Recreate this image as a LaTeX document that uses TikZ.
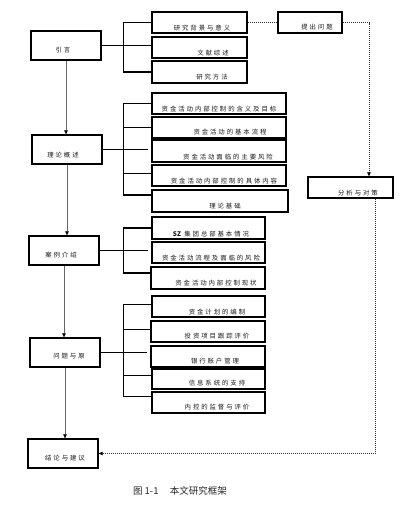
\documentclass[tikz,border=0pt]{standalone}
\usepackage{fontspec}
\setmainfont{Noto Sans CJK SC}
\newfontfamily\cjk[LetterSpace=30]{Noto Sans CJK SC}
\newfontfamily\cjkn{Noto Sans CJK SC}
\usetikzlibrary{arrows.meta}
\tikzset{
 box/.style={draw, line width=1.35pt, inner sep=0pt, rectangle},
 lbl/.style={inner sep=0pt, font=\cjk\fontsize{6.4}{7}\selectfont, text=black!90},
 thk/.style={line width=1.3pt},
 thn/.style={line width=0.6pt},
 tipb/.style={-{Triangle[length=4pt,width=3.5pt,color=black]}},
 mainln/.style={line width=0.6pt, draw=black!60, tipb},
 dsh/.style={line width=0.6pt, dash pattern=on 1pt off 1pt, draw=black!80},
}
\newcommand\bx[8]{%
 \node[box, minimum width={#4pt-#2pt}, minimum height={#5pt-#3pt}] (#1) at ({(#2+#4)/2},{(#3+#5)/2}) {};
 \node[lbl] (#1-t) at (#7,#8) {#6};}
\begin{document}
\begin{tikzpicture}[x=1pt,y=-1pt]
\useasboundingbox (0,0) rectangle (400,506);
% left column
\bx{yinyan}{31}{31}{101}{60}{引言}{63}{50}
\bx{lilun}{32}{135}{102}{164}{理论概述}{63}{155}
\bx{anli}{29}{236}{99}{265}{案例介绍}{61}{255}
\bx{wt}{30}{338}{100}{367}{问题与原}{69}{356}
\bx{jl}{28}{439}{98}{468}{结论与建议}{65}{458}
% group 1
\bx{bg}{152}{12}{247}{33}{研究背景与意义}{202}{28}
\bx{wx}{152}{37}{247}{58}{文献综述}{213}{53}
\bx{ff}{152}{61}{247}{83}{研究方法}{212}{77}
\bx{tc}{278}{12}{342}{33}{提出问题}{317}{27}
% group 2
\bx{t1}{152}{93}{286}{114}{资金活动内部控制的含义及目标}{219}{109}
\bx{t2}{152}{117}{286}{138}{资金活动的基本流程}{230}{132}
\bx{t3}{152}{140}{286}{162}{资金活动面临的主要风险}{228}{157}
\bx{t4}{152}{165}{286}{186}{资金活动内部控制的具体内容}{224}{181}
\bx{t5}{152}{190}{288}{212}{理论基础}{225}{206}
\bx{fx}{308}{177}{393}{198}{分析与对策}{358}{193}
% group 3
\bx{c1}{152}{217}{265}{239}{{\cjkn\bfseries SZ} 集团总部基本情况}{211}{234}
\bx{c2}{152}{242}{265}{263}{资金活动流程及面临的风险}{211}{258}
\bx{c3}{151}{267}{265}{289}{资金活动内部控制现状}{216}{283}
% group 4
\bx{p1}{152}{296}{265}{317}{资金计划的编制}{217}{312}
\bx{p2}{151}{321}{265}{342}{投资项目跟踪评价}{217}{336}
\bx{p3}{151}{346}{265}{367}{银行账户管理}{215}{361}
\bx{p4}{152}{369}{265}{389}{信息系统的支持}{217}{383}
\bx{p5}{152}{392}{265}{413}{内控的监督与评价}{217}{407}
% main vertical arrows
\draw[mainln] (yinyan.south) -- (yinyan.south |- lilun.north);
\draw[mainln] (lilun.south) -- (lilun.south |- anli.north);
\draw[mainln] (anli.south) -- (anli.south |- wt.north);
\draw[mainln] (wt.south) -- (wt.south |- jl.north);
% brackets
\coordinate (bx) at (123,0);
% group 1
\draw[thn] (bx |- bg.west) -- (bg.west);
\draw[thk] (yinyan.east) -- (yinyan.east -| wx.west);
\draw[thk] (bx |- ff.west) -- (ff.west);
\draw[thn] (bx |- bg.west) -- (bx |- ff.west);
% group 2
\draw[thn] (bx |- t1.west) -- (t1.west);
\draw[thk] (bx |- t2.west) -- (t2.west);
\draw[thn] (lilun.east) -- ([xshift=-3pt]lilun.east -| t3.west);
\draw[thk] ([yshift=2pt]bx |- t4.west) -- ([yshift=2pt]t4.west);
\draw[thk] ([yshift=6pt]bx |- t5.west) -- ([yshift=6pt]t5.west);
\draw[thn] (bx |- t1.west) -- ([yshift=6pt]bx |- t5.west);
% group 3
\draw[thk] (bx |- c1.west) -- (c1.west);
\draw[thk] (anli.east) -- ([xshift=-3pt]anli.east -| c2.west);
\draw[thk] ([yshift=5pt]bx |- c3.west) -- ([yshift=5pt]c3.west);
\draw[thn] (bx |- c1.west) -- ([yshift=5pt]bx |- c3.west);
% group 4
\draw[thk] ([yshift=2pt]bx |- p1.west) -- ([yshift=2pt]p1.west);
\draw[thn] ([yshift=2pt]bx |- p2.west) -- ([yshift=2pt]p2.west);
\draw[thk] (wt.east) -- ([xshift=-3pt]wt.east -| p3.west);
\draw[thn] ([yshift=4pt]bx |- p4.west) -- ([yshift=4pt]p4.west);
\draw[thn] ([yshift=6pt]bx |- p5.west) -- ([yshift=6pt]p5.west);
\draw[thn] ([yshift=2pt]bx |- p1.west) -- ([yshift=6pt]bx |- p5.west);
% dashed
\draw[dsh] (bg.east) -- (tc.west);
\draw[dsh, tipb] (tc.east) -| ([xshift=18.5pt]fx.north);
\draw[dsh, tipb] ([xshift=24.5pt]fx.south) |- (jl.east);
% caption
\node[inner sep=0pt, font=\fontsize{9.5}{11}\selectfont, text=black!85] (cap) at (180,491) {图 1-1\hspace{1.2em}本文研究框架};
\end{tikzpicture}
\end{document}
